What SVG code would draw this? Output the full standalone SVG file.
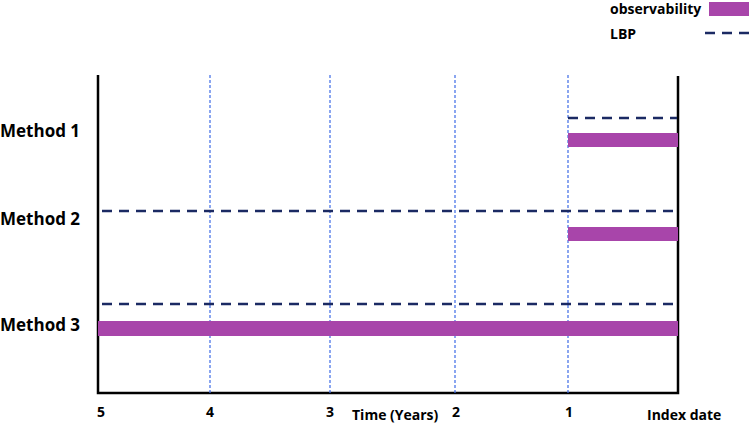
<svg xmlns="http://www.w3.org/2000/svg" width="750" height="426" viewBox="0 0 750 426">
<style>
text{font-family:"Open Sans","Liberation Sans",sans-serif;font-weight:bold;fill:#000}
.lbl{font-size:17px}
.tick{font-size:14px}
.axis{stroke:#000;stroke-width:2.5;fill:none}
.grid{stroke:#3d6ae6;stroke-width:1.2;stroke-dasharray:3 2;fill:none}
.lbp{stroke:#1b2a63;stroke-width:2.5;stroke-dasharray:10 7;fill:none}
.obs{fill:#a845aa}
</style>
<rect width="750" height="426" fill="#fff"/>
<g id="legend">
<text x="610" y="14" class="tick">observability</text>
<rect x="709" y="2" width="40" height="14" class="obs"/>
<text x="610" y="39" class="tick">LBP</text>
<line x1="705" y1="33" x2="750" y2="33" class="lbp"/>
</g>
<g id="axes">
<polyline points="98,75 98,393 678,393 678,76" class="axis"/>
</g>
<g id="grid">
<line x1="210" y1="75" x2="210" y2="393" class="grid"/>
<line x1="330" y1="75" x2="330" y2="393" class="grid"/>
<line x1="455" y1="75" x2="455" y2="393" class="grid"/>
<line x1="568" y1="75" x2="568" y2="393" class="grid"/>
</g>
<g id="method1">
<text x="0" y="137" class="lbl">Method 1</text>
<line x1="568" y1="118" x2="677" y2="118" class="lbp"/>
<rect x="568" y="133" width="110" height="14" class="obs"/>
</g>
<g id="method2">
<text x="0" y="225" class="lbl">Method 2</text>
<line x1="102" y1="211" x2="677" y2="211" class="lbp"/>
<rect x="568" y="227" width="110" height="14" class="obs"/>
</g>
<g id="method3">
<text x="0" y="331" class="lbl">Method 3</text>
<line x1="102" y1="304" x2="677" y2="304" class="lbp"/>
<rect x="98" y="321" width="580" height="15" class="obs"/>
</g>
<g id="ticks">
<text x="97" y="417" class="tick">5</text>
<text x="206" y="417" class="tick">4</text>
<text x="326" y="417" class="tick">3</text>
<text x="352" y="420" class="tick">Time (Years)</text>
<text x="452" y="417" class="tick">2</text>
<text x="565" y="417" class="tick">1</text>
<text x="647" y="420" class="tick">Index date</text>
</g>
</svg>
